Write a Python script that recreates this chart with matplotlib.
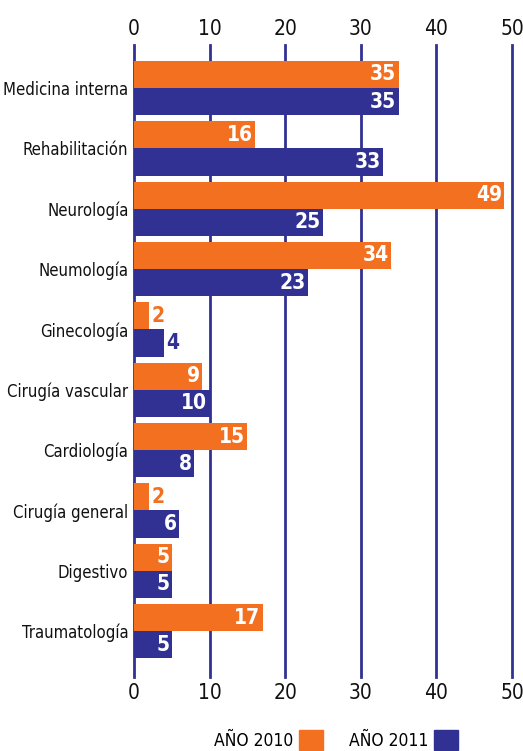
import matplotlib.pyplot as plt
import numpy as np
from matplotlib.patches import Patch

# data
categories = ["Medicina interna", "Rehabilitación", "Neurología", "Neumología",
              "Ginecología", "Cirugía vascular", "Cardiología", "Cirugía general",
              "Digestivo", "Traumatología"]
y2010 = [35, 16, 49, 34, 2, 9, 15, 2, 5, 17]
y2011 = [35, 33, 25, 23, 4, 10, 8, 6, 5, 5]
ticks = [0, 10, 20, 30, 40, 50]

orange = "#F37021"
blue = "#303192"
plt.rcParams['font.family'] = ["DejaVu Sans Condensed", "DejaVu Sans"]
plt.rcParams['font.stretch'] = "condensed"

fig = plt.figure(figsize=(5.23, 7.51), dpi=100)
# axes placed in pixel terms: x 134..512, y 45..677 (from top)
ax = fig.add_axes([134 / 523, 1 - 677 / 751, (512 - 134) / 523, (677 - 45) / 751])

pos = np.arange(len(categories))
h = 0.45
ax.barh(pos - h / 2, y2010, height=h, color=orange, zorder=3)
ax.barh(pos + h / 2, y2011, height=h, color=blue, zorder=3)

# value labels: inside (white) for larger bars, outside in bar colour for small
for vals, off, col in [(y2010, -h / 2, orange), (y2011, h / 2, blue)]:
    for i, v in enumerate(vals):
        if v >= 5:
            ax.text(v - 0.3, i + off, str(v), ha="right", va="center",
                    color="white", fontsize=15, fontweight="bold", zorder=4)
        else:
            ax.text(v + 0.3, i + off, str(v), ha="left", va="center",
                    color=col, fontsize=15, fontweight="bold", zorder=4)

ax.set_xlim(0, 50)
ax.set_ylim(9.76, -0.713)
ax.set_xticks(ticks)
ax.tick_params(axis="x", top=True, labeltop=True, bottom=True, labelbottom=True,
               length=0, labelsize=15, pad=4)
ax.set_yticks(pos)
ax.set_yticklabels(categories)
ax.tick_params(axis="y", length=0, labelsize=12, pad=4)
for lab in ax.get_xticklabels() + ax.get_yticklabels():
    lab.set_color("#111111")

ax.grid(axis="x", color=blue, linewidth=2, zorder=0)
ax.grid(axis="y", visible=False)
for line in ax.get_xgridlines():
    line.set_clip_on(False)
for s in ax.spines.values():
    s.set_visible(False)

handles = [Patch(color=orange, label="AÑO 2010"), Patch(color=blue, label="AÑO 2011")]
fig.legend(handles=handles, ncol=2, markerfirst=False, frameon=False,
           loc="center", bbox_to_anchor=(336 / 523, 1 - 740 / 751),
           fontsize=12.5, handlelength=1.4, handleheight=1.4, columnspacing=1.5,
           handletextpad=0.3, borderpad=0)

fig.savefig("out.png", dpi=100)
